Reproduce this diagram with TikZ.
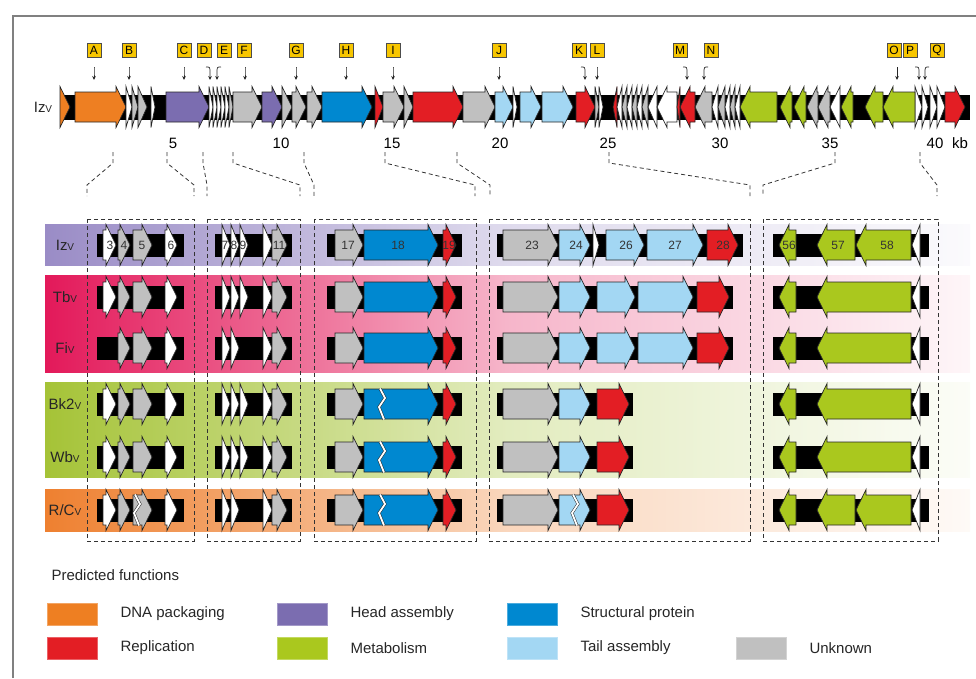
\documentclass[tikz,border=0pt]{standalone}
\usepackage{fontspec}
\setmainfont{Liberation Sans}
\usetikzlibrary{arrows.meta}
\definecolor{cdna}{HTML}{EE7F22}
\definecolor{chead}{HTML}{7B6DB0}
\definecolor{cstruct}{HTML}{0088D0}
\definecolor{crep}{HTML}{E31E24}
\definecolor{cmeta}{HTML}{AAC81E}
\definecolor{ctail}{HTML}{A3D7F3}
\definecolor{cunk}{HTML}{C0C0C0}
\definecolor{bandiz}{HTML}{9A8CC6}
\definecolor{bandtb}{HTML}{E3195A}
\definecolor{bandbk}{HTML}{A5C337}
\definecolor{bandrc}{HTML}{EE8030}
\definecolor{tagfill}{HTML}{F7C600}
\definecolor{framegray}{HTML}{808080}
\tikzset{
  genebox/.style={draw=black!85,line width=.7pt,line join=miter},
  cutbox/.style={draw=black!80,dash pattern=on 4pt off 3pt,line width=.8pt},
  tagbox/.style={draw=black!70,fill=tagfill,line width=.6pt,minimum size=14pt,inner sep=0pt,font=\fontsize{12}{12}\selectfont},
  pointer/.style={-{Stealth[length=4pt,width=3.6pt]},line width=.7pt,black!85},
  rowlab/.style={font=\fontsize{15}{15}\selectfont,text=black!85},
  genelab/.style={font=\fontsize{12}{12}\selectfont,text=black!80,inner sep=0pt},
  legtext/.style={anchor=west,font=\fontsize{15}{15}\selectfont,text=black!85}
}
\newcommand{\vsub}{{\fontsize{10}{10}\selectfont V}}
\newcommand{\fwdgene}[4]{%
  \pgfmathsetmacro\hl{min(10,#2-#1)}%
  \filldraw[genebox,fill=#4] (#1,#3-15) -- ({#2-\hl},#3-15) -- ({#2-\hl},#3-20.5) -- (#2,#3)
    -- ({#2-\hl},#3+20.5) -- ({#2-\hl},#3+15) -- (#1,#3+15) -- cycle;}
\newcommand{\revgene}[4]{%
  \pgfmathsetmacro\hl{min(10,#2-#1)}%
  \filldraw[genebox,fill=#4] (#2,#3-15) -- ({#1+\hl},#3-15) -- ({#1+\hl},#3-20.5) -- (#1,#3)
    -- ({#1+\hl},#3+20.5) -- ({#1+\hl},#3+15) -- (#2,#3+15) -- cycle;}
\newcommand{\genecut}[2]{%
  \draw[black!85,line width=.5pt,double=white,double distance=1.8pt]
    (#1-2,#2-15.5) -- (#1+3,#2-6) -- (#1-3,#2+3) -- (#1+2,#2+15.5);}
\begin{document}
\begin{tikzpicture}[x=1pt,y=-1pt,font=\fontsize{15}{15}\selectfont]
  \useasboundingbox (0,0) rectangle (976,678);
  \draw[framegray,line width=1.2pt] (13,678) -- (13,16) -- (976,16);
  % whole genome
  \node[rowlab] (top-Iz) at (43,107) {Iz\vsub};
  \fill (64,94.5) rectangle (970,119.5);
  \foreach \a/\b/\c in {60/70/cdna,75/126/cdna,126/132/white,132/138/cunk,138/147/cunk,
    151/155/white,166/209/chead,209/213/white,213/217/white,217/221/white,221/225/white,
    225/229/white,229/233/cunk,233/262/cunk,262/282/chead,282/292/cunk,292/306/cunk,
    307/322/cunk,322/372/cstruct,375/383/crep,383/404/cunk,404/413/cunk,413/463/crep,
    463/495/cunk,495/513/ctail,513/517/white,520/541/ctail,542/573/ctail,576/595/crep,
    595/599/cunk,599/603/white,915/922/white,922/928/white,930/937/white,937/945/white,
    945/965/crep}
  {
    \fwdgene{\a}{\b}{107}{\c}
  }
  \foreach \a/\b/\c in {613/617/crep,617/622/white,622/627/cunk,627/632/white,632/637/cunk,
    637/642/white,642/648/cunk,648/657/white,657/677/white,677/680/crep,680/695/crep,
    695/712/cunk,712/718/white,718/725/cunk,725/730/white,730/735/cunk,735/740/white,
    740/777/cmeta,780/792/cmeta,794/806/cmeta,807/818/cunk,818/830/cunk,830/840/white,
    841/853/cmeta,865/883/cmeta,883/915/cmeta}
  {
    \revgene{\a}{\b}{107}{\c}
  }
  \foreach \t/\x in {A/94,B/129,C/184,D/204,E/224,F/244,G/296,H/346,I/393,J/499,
    K/579,L/597,M/680,N/711,O/894,P/910,Q/937}
    \node[tagbox] (tag-\t) at (\x,50) {\t};
  \foreach \xs/\xe in {94/94,129/129,184/184,206/210,221/217,245/245,296/296,346/346,
    393/393,499/499,581/585,597/597,683/687,708/704,897/897,915/919,929/925}
    \draw[pointer] (\xs,67) .. controls (\xe,67) .. (\xe,73) -- (\xe,80);
  \foreach \x/\lab in {173/5,281/10,392/15,500/20,608/25,720/30,830/35,935/40}
    \node (kb-\lab) at (\x,143) {\lab};
  \node (kb-unit) at (960,143) {kb};
  % zoomed regions
  \foreach \n/\ya/\yb/\bc in {Iz/224/265/bandiz,Tb/275/372/bandtb,Bk/382/477/bandbk,RC/489/531/bandrc}
    \shade[left color=\bc,right color=\bc!4,middle color=\bc!32] (45,\ya) rectangle (970,\yb);
  \foreach \xt/\xb in {113/87,167/194,203/207,233/300,304/314,385/475,457/490,609/750,835/763,920/937}
    \draw[cutbox] (\xt,152) -- (\xt,163) -- (\xb,185) -- (\xb,196);
  \foreach \xa/\xb in {87/194,207/300,314/476,489/750,763/938}
    \draw[cutbox] (\xa,219) rectangle (\xb,541);
  \foreach \n/\y/\lab/\e in {Iz/245/Iz/743,Tb/297/Tb/733,Fi/348/Fi/733,Bk/404/Bk2/633,Wb/457/Wb/633,RC/510/{R/C}/633} {
    \node[rowlab] (row-\n) at (65,\y) {\lab\vsub};
    \fill (97,\y-11.5) rectangle (184,\y+11.5);
    \fill (215,\y-11.5) rectangle (292,\y+11.5);
    \fill (327,\y-11.5) rectangle (462,\y+11.5);
    \fill (497,\y-11.5) rectangle (\e,\y+11.5);
    \fill (773,\y-11.5) rectangle (929,\y+11.5);
    \foreach \a/\b/\c in {118/130/cunk,133/152/cunk,165/177/white,222/230/white,231/239/white,
      263/272/white,272/287/cunk,335/363/cunk,364/438/cstruct,443/456/crep,503/558/cunk,559/590/ctail}
      \fwdgene{\a}{\b}{\y}{\c};
    \revgene{779}{796}{\y}{cmeta}
    \revgene{912}{920}{\y}{white}
  }
  \foreach \y in {245,297,404,457,510}
    \fwdgene{103}{116}{\y}{white};
  \foreach \y in {245,297,404,457}
    \fwdgene{240}{248}{\y}{white};
  \foreach \a/\b/\c in {593/599/white,606/644/ctail,647/703/ctail,707/738/crep}
    \fwdgene{\a}{\b}{245}{\c};
  \foreach \y in {297,348} {
    \fwdgene{597}{635}{\y}{ctail}
    \fwdgene{638}{693}{\y}{ctail}
    \fwdgene{697}{729}{\y}{crep}
  }
  \foreach \y in {404,457,510}
    \fwdgene{597}{629}{\y}{crep};
  \foreach \y in {245,510} {
    \revgene{817}{855}{\y}{cmeta}
    \revgene{856}{911}{\y}{cmeta}
  }
  \foreach \y in {297,348,404,457}
    \revgene{817}{911}{\y}{cmeta};
  \genecut{137}{510}
  \foreach \y in {404,457,510}
    \genecut{382}{\y};
  \genecut{575}{510}
  \foreach \x/\lab in {110/3,124/4,142/5,171/6,225/7,234/8,243/9,279/11,348/17,398/18,449/19,
    532/23,576/24,626/26,675/27,723/28,789/56,838/57,887/58}
    \node[genelab] (num-\lab) at (\x,245) {\lab};
  % legend
  \node[legtext] (leg-title) at (48,575) {Predicted functions};
  \foreach \n/\x/\y/\c/\lab in {dna/47/614/cdna/DNA packaging,head/277/614/chead/Head assembly,
    struct/507/614/cstruct/Structural protein,rep/47/648/crep/Replication,
    meta/277/648/cmeta/Metabolism,tail/507/648/ctail/Tail assembly,unk/736/648/cunk/Unknown} {
    \filldraw[draw=\c!70!white,fill=\c,line width=.6pt] (\x,\y-11) rectangle (\x+50,\y+11);
    \node[legtext] (leg-\n) at (\x+70,\y) {\lab};
  }
\end{tikzpicture}
\end{document}
